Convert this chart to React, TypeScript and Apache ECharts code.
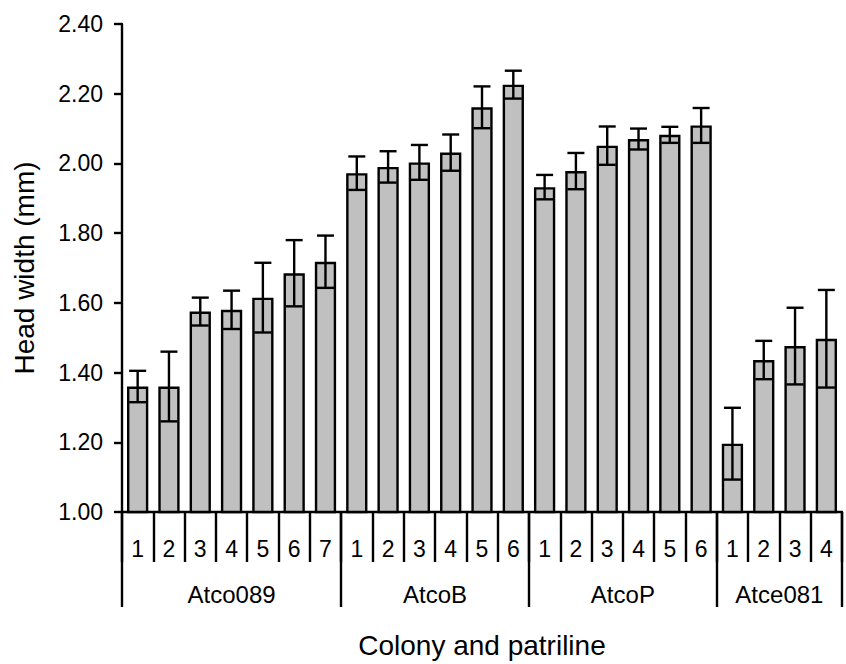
import { useEffect, useRef } from 'react';
import * as echarts from 'echarts';

const categories = ['1', '2', '3', '4', '5', '6', '7', '1', '2', '3', '4', '5', '6', '1', '2', '3', '4', '5', '6', '1', '2', '3', '4'];
const means = [1.36, 1.36, 1.575, 1.58, 1.615, 1.685, 1.718, 1.972, 1.99, 2.003, 2.031, 2.161, 2.226, 1.932, 1.978, 2.051, 2.07, 2.082, 2.109, 1.196, 1.436, 1.476, 1.497];
const errors = [0.045, 0.1, 0.04, 0.055, 0.1, 0.095, 0.075, 0.048, 0.045, 0.05, 0.052, 0.06, 0.04, 0.035, 0.052, 0.055, 0.03, 0.023, 0.05, 0.103, 0.055, 0.11, 0.14];
const groupNames = ['Atco089', 'AtcoB', 'AtcoP', 'Atce081'];
const groupBoundaries = [0, 7, 13, 19, 23];
const groupCenters = [3.5, 10, 16, 21];

const FONT = 'Liberation Sans, Arial, sans-serif';
const TEXT = '#000';
const LW = 2.4;

export default function App() {
  const ref = useRef<HTMLDivElement>(null);
  useEffect(() => {
    document.body.style.margin = '0';
    const chart = echarts.init(ref.current!, null, { renderer: 'svg' });
    chart.setOption({
      animation: false,
      backgroundColor: '#fff',
      grid: { left: 122, right: 4, top: 24, bottom: 141, containLabel: false },
      xAxis: [
        {
          type: 'category',
          data: categories,
          position: 'bottom',
          boundaryGap: true,
          axisLine: { show: true, lineStyle: { color: '#000', width: LW } },
          axisTick: { show: true, interval: 0, length: 50, alignWithLabel: false, lineStyle: { color: '#000', width: LW } },
          axisLabel: { interval: 0, fontSize: 23, color: TEXT, fontFamily: FONT, margin: 25 },
          splitLine: { show: false },
        },
        {
          type: 'value',
          min: 0,
          max: groupBoundaries[groupBoundaries.length - 1],
          position: 'bottom',
          axisLine: { show: false },
          axisTick: { show: true, customValues: groupBoundaries, length: 95, lineStyle: { color: '#000', width: LW } },
          axisLabel: {
            show: true,
            customValues: groupCenters,
            fontSize: 24,
            color: TEXT,
            fontFamily: FONT,
            margin: 70,
            formatter: (v: number) => groupNames[groupCenters.indexOf(v)] ?? '',
          },
          splitLine: { show: false },
          name: 'Colony and patriline',
          nameLocation: 'middle',
          nameGap: 119,
          nameTextStyle: { fontSize: 28, color: TEXT, fontFamily: FONT },
        },
      ],
      yAxis: {
        type: 'value',
        min: 1,
        max: 2.4,
        interval: 0.2,
        axisLine: { show: true, lineStyle: { color: '#000', width: LW } },
        axisTick: { show: true, inside: false, length: 8, lineStyle: { color: '#000', width: LW } },
        axisLabel: { fontSize: 23, color: TEXT, fontFamily: FONT, margin: 19, formatter: (v: number) => v.toFixed(2) },
        splitLine: { show: false },
        name: 'Head width (mm)',
        nameLocation: 'middle',
        nameGap: 84,
        nameRotate: 90,
        nameTextStyle: { fontSize: 28, color: TEXT, fontFamily: FONT },
      },
      series: [
        {
          type: 'bar',
          data: means,
          barWidth: '68%',
          itemStyle: { color: '#c0c0c0', borderColor: '#000', borderWidth: LW },
          z: 2,
        },
        {
          type: 'custom',
          data: means.map((m, i) => [i, m - errors[i], m + errors[i]]),
          encode: { x: 0, y: [1, 2] },
          z: 5,
          renderItem: (params: any, api: any) => {
            const x = api.value(0);
            const pLo = api.coord([x, api.value(1)]);
            const pHi = api.coord([x, api.value(2)]);
            const hw = 8.5;
            const style = { stroke: '#000', lineWidth: LW, fill: null };
            return {
              type: 'group',
              children: [
                { type: 'line', shape: { x1: pLo[0], y1: pLo[1], x2: pHi[0], y2: pHi[1] }, style },
                { type: 'line', shape: { x1: pHi[0] - hw, y1: pHi[1], x2: pHi[0] + hw, y2: pHi[1] }, style },
                { type: 'line', shape: { x1: pLo[0] - hw, y1: pLo[1], x2: pLo[0] + hw, y2: pLo[1] }, style },
              ],
            };
          },
        },
      ],
    });
    return () => chart.dispose();
  }, []);
  return <div ref={ref} style={{ width: 846, height: 664 }} />;
}
